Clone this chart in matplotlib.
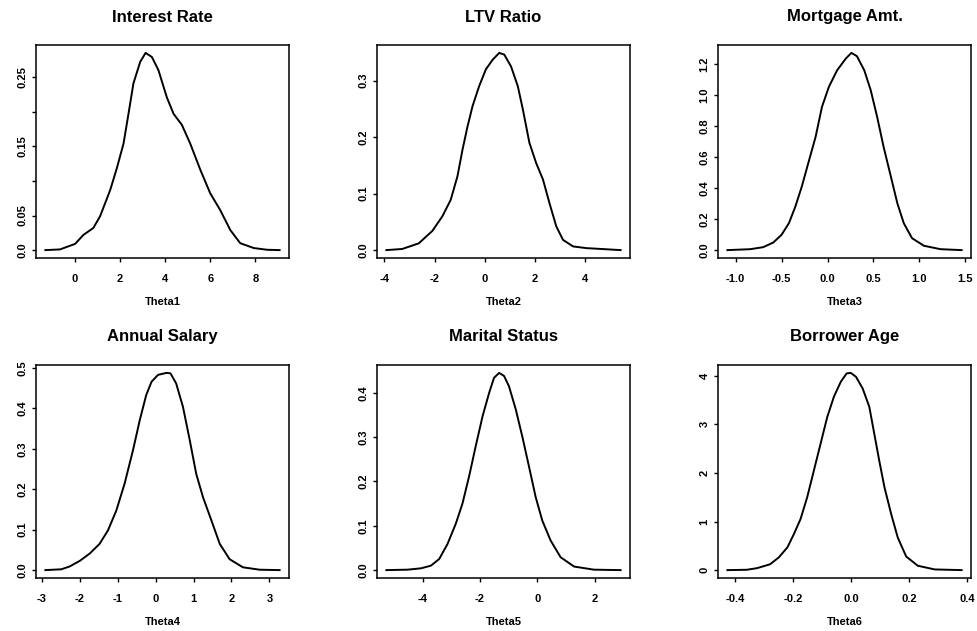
import numpy as np
import matplotlib
matplotlib.use("Agg")
import matplotlib.pyplot as plt
from matplotlib.ticker import FixedLocator, FixedFormatter

plt.rcParams['font.family'] = ['Liberation Sans', 'DejaVu Sans']
plt.rcParams['font.weight'] = 'bold'

titles = ["Interest Rate", "LTV Ratio", "Mortgage Amt.",
          "Annual Salary", "Marital Status", "Borrower Age"]
xlabels = ["Theta1", "Theta2", "Theta3", "Theta4", "Theta5", "Theta6"]

# density curves
x1 = [-1.32, -0.67, 0.0, 0.37, 0.81, 1.11, 1.56, 1.85, 2.15, 2.37, 2.59, 2.89, 3.13,
      3.41, 3.70, 4.07, 4.37, 4.74, 5.11, 5.56, 6.0, 6.44, 6.89, 7.33, 7.93, 8.52, 9.08]
y1 = [0.0, 0.001, 0.009, 0.022, 0.032, 0.049, 0.087, 0.118, 0.154, 0.197, 0.241, 0.272, 0.285,
      0.279, 0.260, 0.221, 0.197, 0.181, 0.154, 0.116, 0.082, 0.058, 0.029, 0.010, 0.003, 0.0005, 0.0]

x2 = [-3.92, -3.29, -2.63, -2.09, -1.69, -1.36, -1.09, -0.89, -0.69, -0.49, -0.23, 0.04, 0.31,
      0.57, 0.77, 1.04, 1.31, 1.51, 1.77, 2.04, 2.31, 2.57, 2.84, 3.11, 3.51, 4.04, 4.71, 5.4]
y2 = [0.0, 0.002, 0.012, 0.034, 0.060, 0.089, 0.131, 0.178, 0.219, 0.255, 0.290, 0.320, 0.337,
      0.349, 0.346, 0.325, 0.290, 0.249, 0.190, 0.154, 0.125, 0.083, 0.042, 0.018, 0.0065, 0.0035, 0.0018, 0.0]

x3 = [-1.09, -0.84, -0.70, -0.59, -0.50, -0.42, -0.35, -0.28, -0.21, -0.13, -0.06, 0.015, 0.105,
      0.20, 0.26, 0.32, 0.40, 0.47, 0.54, 0.61, 0.69, 0.76, 0.83, 0.92, 1.05, 1.23, 1.46]
y3 = [0.0, 0.006, 0.019, 0.049, 0.099, 0.174, 0.281, 0.41, 0.56, 0.73, 0.925, 1.054, 1.161,
      1.237, 1.273, 1.252, 1.161, 1.033, 0.861, 0.668, 0.474, 0.303, 0.174, 0.077, 0.028, 0.006, 0.0]

x4 = [-2.91, -2.49, -2.27, -2.0, -1.74, -1.48, -1.26, -1.04, -0.82, -0.60, -0.42, -0.25, -0.11,
      0.06, 0.28, 0.39, 0.54, 0.72, 0.90, 1.07, 1.25, 1.47, 1.69, 1.95, 2.30, 2.74, 3.27]
y4 = [0.0, 0.002, 0.009, 0.023, 0.041, 0.065, 0.098, 0.147, 0.214, 0.296, 0.371, 0.433, 0.466,
      0.483, 0.488, 0.487, 0.462, 0.404, 0.321, 0.238, 0.180, 0.123, 0.065, 0.027, 0.007, 0.001, 0.0]

x5 = [-5.26, -4.52, -4.06, -3.71, -3.42, -3.13, -2.84, -2.61, -2.38, -2.15, -1.91, -1.68, -1.51,
      -1.33, -1.16, -0.99, -0.75, -0.52, -0.29, -0.06, 0.17, 0.46, 0.81, 1.28, 1.97, 2.90]
y5 = [0.0, 0.001, 0.004, 0.010, 0.025, 0.059, 0.105, 0.150, 0.211, 0.279, 0.347, 0.400, 0.434,
      0.445, 0.438, 0.415, 0.362, 0.300, 0.233, 0.165, 0.112, 0.067, 0.029, 0.008, 0.001, 0.0]

x6 = [-0.427, -0.36, -0.325, -0.28, -0.25, -0.22, -0.198, -0.175, -0.152, -0.129, -0.106, -0.083,
      -0.06, -0.036, -0.016, -0.002, 0.016, 0.039, 0.062, 0.079, 0.096, 0.114, 0.137, 0.16, 0.189,
      0.229, 0.287, 0.38]
y6 = [0.0, 0.007, 0.04, 0.12, 0.26, 0.47, 0.74, 1.05, 1.50, 2.05, 2.60, 3.15,
      3.57, 3.88, 4.05, 4.06, 3.98, 3.74, 3.36, 2.81, 2.26, 1.71, 1.16, 0.67, 0.28,
      0.09, 0.014, 0.0]

xs = [x1, x2, x3, x4, x5, x6]
ys = [y1, y2, y3, y4, y5, y6]

xticks = [[0, 2, 4, 6, 8], [-4, -2, 0, 2, 4], [-1.0, -0.5, 0.0, 0.5, 1.0, 1.5],
          [-3, -2, -1, 0, 1, 2, 3], [-4, -2, 0, 2], [-0.4, -0.2, 0.0, 0.2, 0.4]]
xticklabels = [["0", "2", "4", "6", "8"], ["-4", "-2", "0", "2", "4"],
               ["-1.0", "-0.5", "0.0", "0.5", "1.0", "1.5"],
               ["-3", "-2", "-1", "0", "1", "2", "3"], ["-4", "-2", "0", "2"],
               ["-0.4", "-0.2", "0.0", "0.2", "0.4"]]
yticks = [[0, 0.05, 0.10, 0.15, 0.20, 0.25], [0, 0.1, 0.2, 0.3],
          [0, 0.2, 0.4, 0.6, 0.8, 1.0, 1.2], [0, 0.1, 0.2, 0.3, 0.4, 0.5],
          [0, 0.1, 0.2, 0.3, 0.4], [0, 1, 2, 3, 4]]
yticklabels = [["0.0", "0.05", "", "0.15", "", "0.25"], ["0.0", "0.1", "0.2", "0.3"],
               ["0.0", "0.2", "0.4", "0.6", "0.8", "1.0", "1.2"],
               ["0.0", "0.1", "0.2", "0.3", "0.4", "0.5"],
               ["0.0", "0.1", "0.2", "0.3", "0.4"], ["0", "1", "2", "3", "4"]]

W, H = 977, 631
fig = plt.figure(figsize=(W / 100, H / 100), dpi=100)
lefts = [36, 377, 718]
tops = [45, 365]
aw, ah = 253, 213

for i in range(6):
    r, c = divmod(i, 3)
    ax = fig.add_axes([lefts[c] / W, 1 - (tops[r] + ah) / H, aw / W, ah / H])
    x = np.array(xs[i]); y = np.array(ys[i])
    ax.plot(x, y, color='black', lw=1.4, solid_joinstyle='round')
    xr = x.max() - x.min()
    ax.set_xlim(x.min() - 0.04 * xr, x.max() + 0.04 * xr)
    ax.set_ylim(-0.04 * y.max(), 1.04 * y.max())
    ax.xaxis.set_major_locator(FixedLocator(xticks[i]))
    ax.xaxis.set_major_formatter(FixedFormatter(xticklabels[i]))
    ax.yaxis.set_major_locator(FixedLocator(yticks[i]))
    ax.yaxis.set_major_formatter(FixedFormatter(yticklabels[i]))
    ax.tick_params(axis='x', length=3, width=1.0, pad=8.5, labelsize=8)
    ax.tick_params(axis='y', length=3, width=1.0, pad=3, labelsize=8)
    for lab in ax.get_yticklabels():
        lab.set_rotation(90)
        lab.set_va('center')
        lab.set_fontweight('bold')
    for lab in ax.get_xticklabels():
        lab.set_fontweight('bold')
    for sp in ax.spines.values():
        sp.set_linewidth(1.1)
    ax.text(0.5, 1 + 28 / ah, titles[i], transform=ax.transAxes, ha='center',
            va='center', fontsize=12, fontweight='bold')
    ax.text(0.5, -44 / ah, xlabels[i], transform=ax.transAxes, ha='center',
            va='center', fontsize=8, fontweight='bold')

fig.savefig("out.png", dpi=100)
